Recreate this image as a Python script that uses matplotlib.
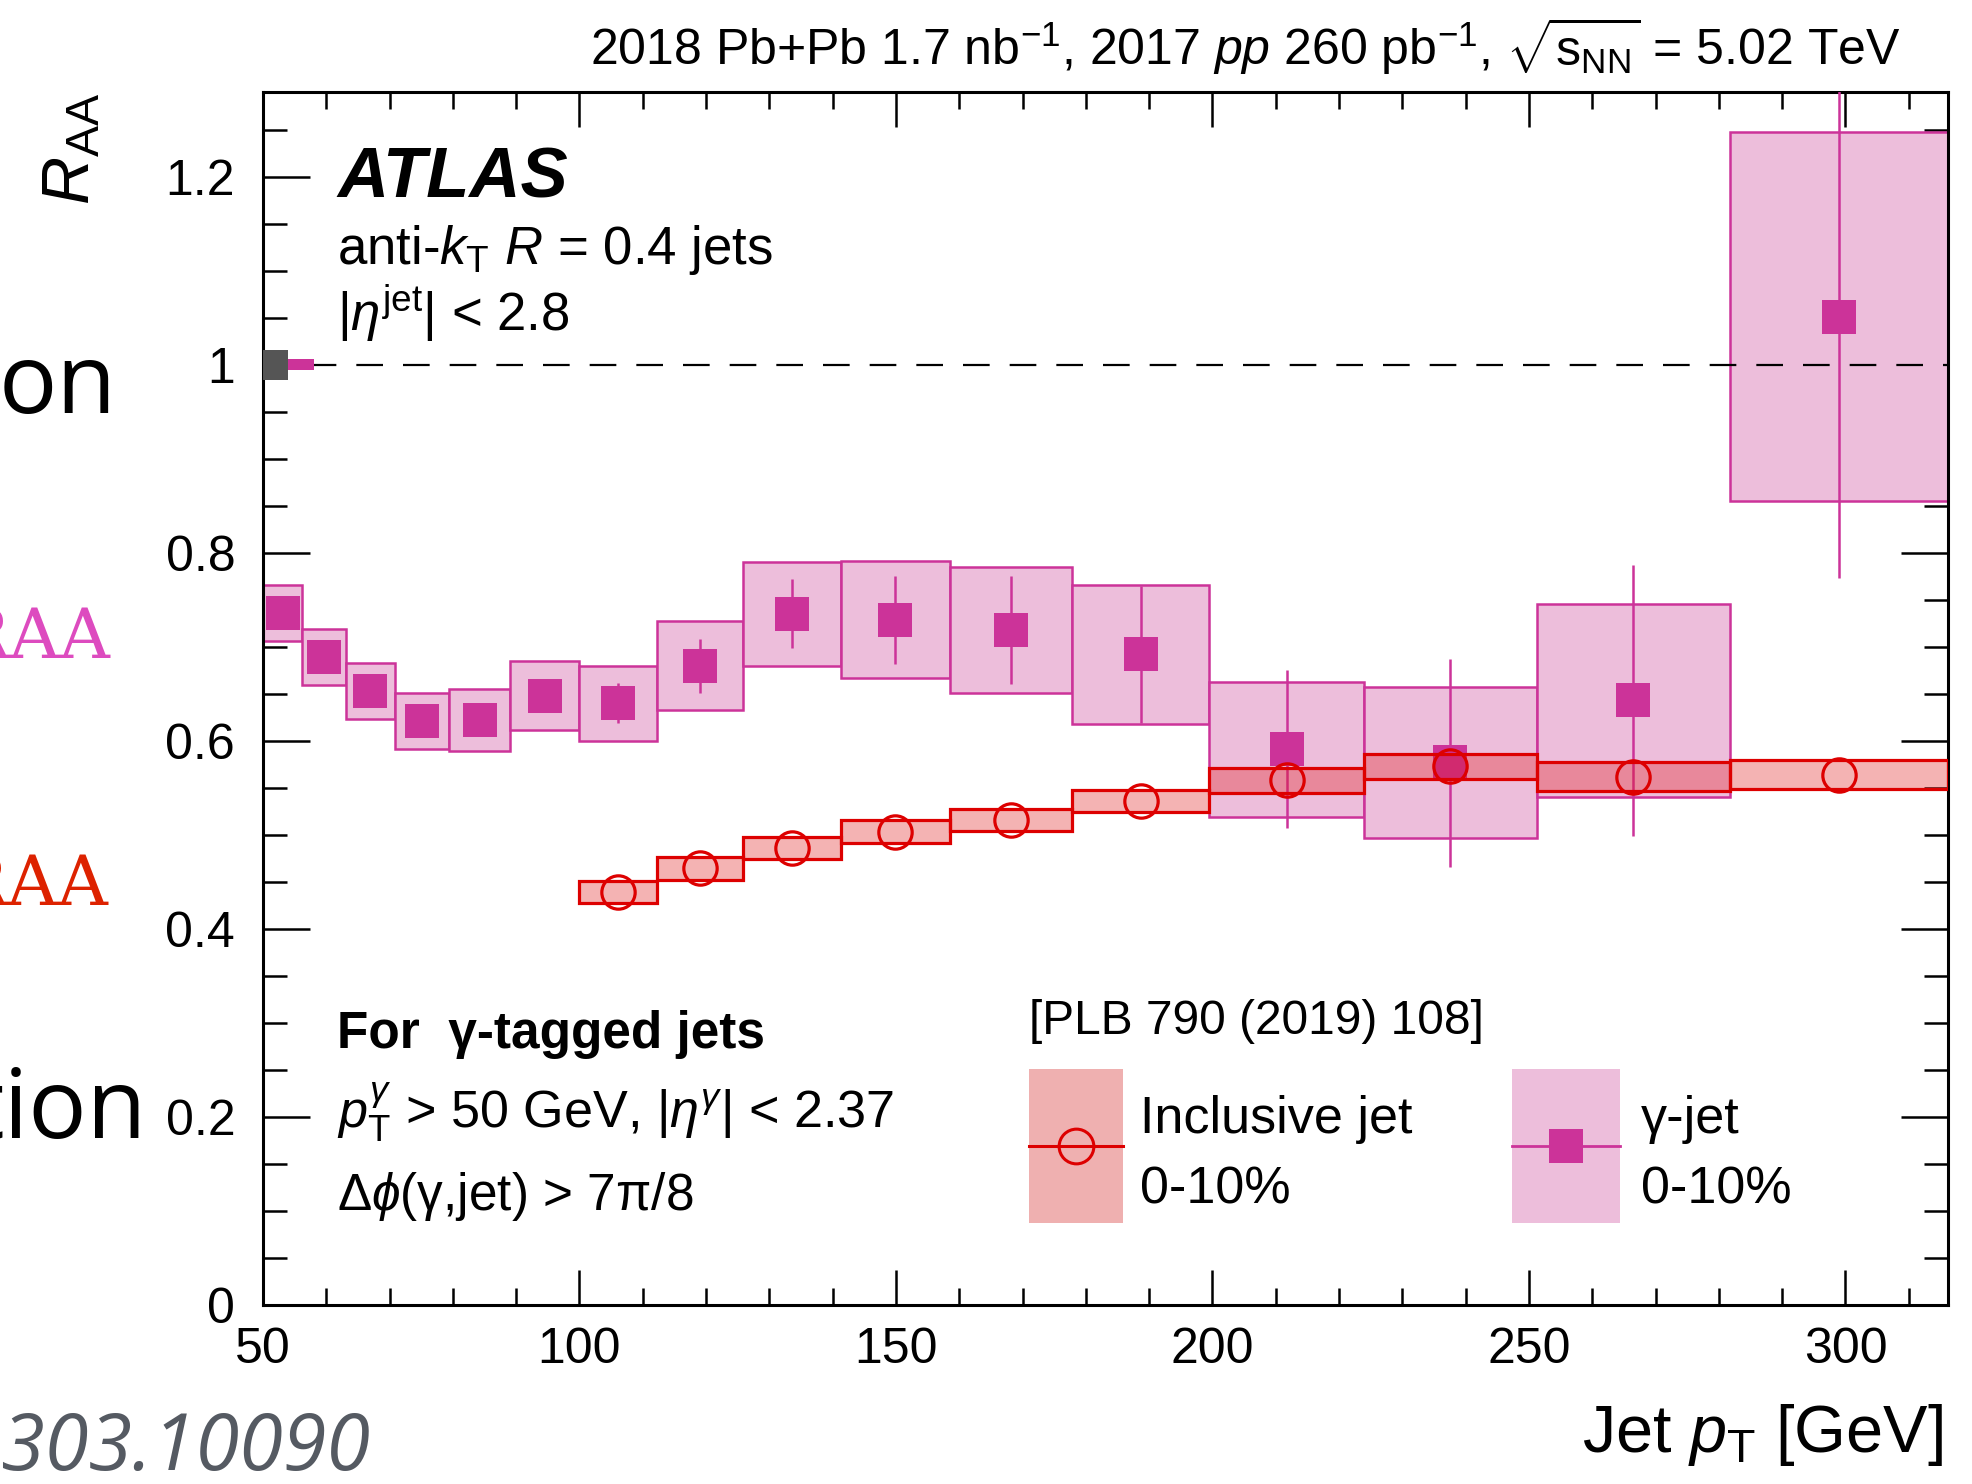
import matplotlib
matplotlib.use('Agg')
import matplotlib.pyplot as plt
from matplotlib.patches import Rectangle
from matplotlib.lines import Line2D
from matplotlib.ticker import MultipleLocator, FuncFormatter
import numpy as np

plt.rcParams['font.family'] = ['Liberation Sans', 'DejaVu Sans']
plt.rcParams['mathtext.fontset'] = 'custom'
plt.rcParams['mathtext.rm'] = 'Liberation Sans'
plt.rcParams['mathtext.it'] = 'Liberation Sans:italic'
plt.rcParams['mathtext.bf'] = 'Liberation Sans:bold'
plt.rcParams['mathtext.sf'] = 'Liberation Sans'

# ---------------- data ----------------
bin_edges = [50, 56.2, 63.1, 70.8, 79.4, 89.1, 100, 112.2, 125.9, 141.3,
             158.5, 177.8, 199.5, 223.9, 251.2, 281.8, 316.2]

# gamma-tagged jets, 0-10%
gj_val = [0.736, 0.689, 0.653, 0.621, 0.622, 0.648, 0.640, 0.680, 0.735,
          0.729, 0.718, 0.692, 0.591, 0.577, 0.643, 1.051]
gj_sys = [0.030, 0.030, 0.030, 0.030, 0.033, 0.037, 0.040, 0.047, 0.055,
          0.062, 0.067, 0.074, 0.072, 0.080, 0.103, 0.196]
gj_stat_lo = [0.012, 0.012, 0.013, 0.013, 0.014, 0.016, 0.021, 0.029, 0.036,
              0.047, 0.058, 0.073, 0.084, 0.111, 0.144, 0.278]
gj_stat_hi = [0.012, 0.012, 0.013, 0.013, 0.014, 0.016, 0.021, 0.028, 0.037,
              0.046, 0.057, 0.073, 0.084, 0.110, 0.144, 0.350]

# inclusive jets, 0-10% (PLB 790 (2019) 108), bins from 100 GeV
inc_first_bin = 6
inc_val = [0.439, 0.4645, 0.486, 0.5035, 0.516, 0.536, 0.558, 0.573, 0.562, 0.564]
inc_sys = [0.012, 0.012, 0.012, 0.012, 0.012, 0.012, 0.013, 0.0135, 0.015, 0.0155]

# normalisation uncertainties drawn at R_AA = 1
norm_edges = [50, 54, 58]
norm_unc = [0.016, 0.006]

# ---------------- style ----------------
PINK = '#cc3399'
PINK_FILL = '#edbedb'
RED = '#dd0000'
RED_FILL_ALPHA = (0.87, 0.10, 0.10, 0.33)
RED_FILL = '#efb0b0'
GRAY = '#555555'

W, H = 1972, 1484
fig = plt.figure(figsize=(W / 100, H / 100), dpi=100)


def fx(px):
    return px / W


def fy(py):
    return 1 - py / H


def ftext(px, py, s, **kw):
    kw.setdefault('va', 'baseline')
    kw.setdefault('ha', 'left')
    return fig.text(fx(px), fy(py), s, **kw)


ax = fig.add_axes([fx(263), fy(1305), fx(1948) - fx(263), fy(92) - fy(1305)])

edges = np.array(bin_edges)
centers = 0.5 * (edges[:-1] + edges[1:])
widths = edges[1:] - edges[:-1]

# gamma-jet systematic boxes
for c0, w, v, s in zip(edges[:-1], widths, gj_val, gj_sys):
    ax.add_patch(Rectangle((c0, v - s), w, 2 * s, facecolor=PINK_FILL,
                           edgecolor=PINK, lw=1.8, zorder=2))

ax.errorbar(centers, gj_val, yerr=[gj_stat_lo, gj_stat_hi], fmt='s', ms=24.5,
            mfc=PINK, mec=PINK, mew=0, ecolor=PINK, elinewidth=1.8, capsize=0,
            zorder=3)

ax.axhline(1.0, color='black', lw=1.6, dashes=(12, 9), zorder=3.5)

# inclusive jet boxes
n_inc = len(inc_val)
ie = edges[inc_first_bin:inc_first_bin + n_inc + 1]
ic = centers[inc_first_bin:inc_first_bin + n_inc]
for c0, c1, v, s in zip(ie[:-1], ie[1:], inc_val, inc_sys):
    ax.add_patch(Rectangle((c0, v - s), c1 - c0, 2 * s, facecolor=RED_FILL_ALPHA,
                           edgecolor=RED, lw=2.3, zorder=4))
ax.plot(ic, inc_val, ls='none', marker='o', ms=24, mfc='none', mec=RED,
        mew=2.3, zorder=5)

# normalisation boxes
ax.add_patch(Rectangle((norm_edges[0], 1 - norm_unc[0]), norm_edges[1] - norm_edges[0],
                       2 * norm_unc[0], facecolor=GRAY, edgecolor='none', zorder=6))
ax.add_patch(Rectangle((norm_edges[1], 1 - norm_unc[1]), norm_edges[2] - norm_edges[1],
                       2 * norm_unc[1], facecolor=PINK, edgecolor='none', zorder=6))

ax.set_xlim(bin_edges[0], bin_edges[-1])
ax.set_ylim(0, 1.29)
ax.xaxis.set_major_locator(MultipleLocator(50))
ax.xaxis.set_minor_locator(MultipleLocator(10))
ax.yaxis.set_major_locator(MultipleLocator(0.2))
ax.yaxis.set_minor_locator(MultipleLocator(0.05))
ax.yaxis.set_major_formatter(FuncFormatter(lambda v, p: f"{v:g}"))
ax.tick_params(which='both', direction='in', top=True, right=True, width=1.8,
               labelsize=36)
ax.tick_params(axis='x', which='major', length=25, pad=16)
ax.tick_params(axis='x', which='minor', length=12)
ax.tick_params(axis='y', which='major', length=34, pad=20)
ax.tick_params(axis='y', which='minor', length=17)
for sp in ax.spines.values():
    sp.set_linewidth(2.2)

# axis titles
ftext(1943, 1452, r'Jet $p_{\mathrm{T}}$ [GeV]', ha='right', size=48)
fig.text(fx(72), fy(93), r'$R_{\mathrm{AA}}$', rotation=90, ha='center', va='top',
         size=48)

# header
ftext(1901, 65, r'2018 Pb+Pb 1.7 nb$^{\mathrm{-1}}$, 2017 $pp$ 260 pb$^{\mathrm{-1}}$, '
      r'$\sqrt{\mathrm{s}_{\mathrm{NN}}}$ = 5.02 TeV', ha='right', size=36)

# in-plot labels
ftext(337, 197, 'ATLAS', weight='bold', style='italic', size=51)
ftext(337, 264, r'anti-$k_{\mathrm{T}}$ $R$ = 0.4 jets', size=38)
ftext(337, 331, r'$|\eta^{\mathrm{jet}}|$ < 2.8', size=38)
ftext(337, 1048, 'For  γ-tagged jets', weight='bold', size=37)
ftext(337, 1128, r'$p_{\mathrm{T}}^{\gamma}$ > 50 GeV, $|\eta^{\gamma}|$ < 2.37', size=37.5)
ftext(337, 1210, r'$\Delta\phi$(γ,jet) > 7π/8', size=37)
ftext(1029, 1034, '[PLB 790 (2019) 108]', size=34.5)

# legend
fig.add_artist(Rectangle((fx(1029), fy(1223)), fx(1123) - fx(1029), fy(1069) - fy(1223),
                         transform=fig.transFigure, facecolor=RED_FILL, edgecolor='none'))
fig.add_artist(Line2D([fx(1029), fx(1123)], [fy(1146)] * 2, transform=fig.transFigure,
                      color=RED, lw=2.2))
fig.add_artist(Line2D([fx(1076)], [fy(1146)], transform=fig.transFigure, marker='o',
                      ms=25, mfc='none', mec=RED, mew=2.2, ls='none'))
fig.add_artist(Rectangle((fx(1512), fy(1223)), fx(1620) - fx(1512), fy(1069) - fy(1223),
                         transform=fig.transFigure, facecolor=PINK_FILL, edgecolor='none'))
fig.add_artist(Line2D([fx(1512), fx(1620)], [fy(1146)] * 2, transform=fig.transFigure,
                      color=PINK, lw=2.0))
fig.add_artist(Line2D([fx(1566)], [fy(1146)], transform=fig.transFigure, marker='s',
                      ms=24.5, mfc=PINK, mec=PINK, mew=0, ls='none'))
ftext(1140, 1133, 'Inclusive jet', size=37.5)
ftext(1140, 1203, '0-10%', size=37.5)
ftext(1641, 1133, 'γ-jet', size=37.5)
ftext(1641, 1203, '0-10%', size=37.5)

# cropped slide text at the left edge
ftext(117, 413, 'on', family='Open Sans', size=70, ha='right', color='black')
ftext(147, 1138, 'tion', family='Open Sans', size=70, ha='right', color='black')
ftext(110, 658, 'RAA', family='DejaVu Serif', size=50, ha='right', color='#dd4bbf')
ftext(108, 905, 'RAA', family='DejaVu Serif', size=50, ha='right', color='#dd2200')
ftext(370, 1470, 'arXiv:2303.10090', family='Open Sans', style='italic', size=57,
      ha='right', color='#555a62')

fig.savefig('out.png', dpi=100)
